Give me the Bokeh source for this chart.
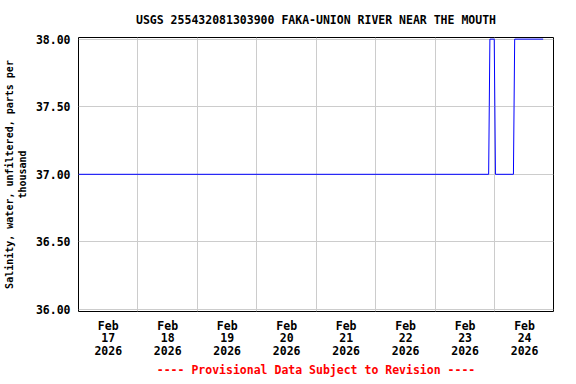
from datetime import datetime, timezone
from bokeh.plotting import figure
from bokeh.models import FixedTicker, NumeralTickFormatter, Title, Range1d
from bokeh.embed import file_html
from bokeh.resources import INLINE

# ---- data ----
times = ["2026-02-17 00:00", "2026-02-23 21:30", "2026-02-23 21:45", "2026-02-23 22:00",
         "2026-02-23 23:45", "2026-02-24 00:00", "2026-02-24 00:15", "2026-02-24 07:30",
         "2026-02-24 07:45", "2026-02-24 08:00", "2026-02-24 19:30"]
salinity = [37.0, 37.0, 37.5, 38.0, 38.0, 37.5, 37.0, 37.0, 37.5, 38.0, 38.0]

day_labels = ["Feb\n17\n2026", "Feb\n18\n2026", "Feb\n19\n2026", "Feb\n20\n2026",
              "Feb\n21\n2026", "Feb\n22\n2026", "Feb\n23\n2026", "Feb\n24\n2026"]
day_starts = ["2026-02-17", "2026-02-18", "2026-02-19", "2026-02-20",
              "2026-02-21", "2026-02-22", "2026-02-23", "2026-02-24", "2026-02-25"]
y_ticks = [36.0, 36.5, 37.0, 37.5, 38.0]

title_text = "USGS 255432081303900 FAKA-UNION RIVER NEAR THE MOUTH"
y_label = "Salinity, water, unfiltered, parts per\nthousand"
footer_text = "---- Provisional Data Subject to Revision ----"


def ms(s):
    fmt = "%Y-%m-%d %H:%M" if " " in s else "%Y-%m-%d"
    return datetime.strptime(s, fmt).replace(tzinfo=timezone.utc).timestamp() * 1000.0


x = [ms(t) for t in times]
midnights = [ms(d) for d in day_starts]
noons = [m + 12 * 3600 * 1000.0 for m in midnights[:-1]]

FONT = "DejaVu Sans Mono"
FS = "11.5px"

p = figure(frame_width=475, frame_height=274, x_axis_type="datetime",
           output_backend="svg", toolbar_location=None,
           min_border_left=71, min_border_right=14, min_border_top=0, min_border_bottom=0)
p.x_range = Range1d(midnights[0], midnights[-1] - 20 * 60 * 1000.0)
p.y_range = Range1d(35.985, 38.012)

p.line(x, salinity, line_color="#0000FF", line_width=1)

p.title.text = title_text
p.title.align = "center"
p.title.text_font = FONT
p.title.text_font_size = FS
p.title.text_font_style = "bold"
p.title.text_color = "black"
p.title.standoff = 21

# x axis
xa = p.xaxis[0]
xa.ticker = FixedTicker(ticks=noons)
xa.major_label_overrides = {n: lab for n, lab in zip(noons, day_labels)}
xa.major_label_text_font = FONT
xa.major_label_text_font_size = FS
xa.major_label_text_font_style = "bold"
xa.major_label_text_color = "black"
xa.major_label_text_line_height = 0.9
xa.major_label_standoff = 7
xa.major_tick_out = 0
xa.major_tick_in = 0
xa.minor_tick_out = 0
xa.minor_tick_in = 0
xa.major_tick_line_color = None
xa.minor_tick_line_color = None
xa.axis_line_color = None
p.xgrid.ticker = FixedTicker(ticks=midnights)
p.xgrid.grid_line_color = "#cccccc"

# y axis
ya = p.yaxis[0]
ya.ticker = FixedTicker(ticks=y_ticks)
ya.formatter = NumeralTickFormatter(format="0.00")
ya.major_label_text_font = FONT
ya.major_label_text_font_size = FS
ya.major_label_text_font_style = "bold"
ya.major_label_text_color = "black"
ya.major_label_standoff = 8
ya.major_tick_out = 0
ya.major_tick_in = 0
ya.minor_tick_out = 0
ya.minor_tick_in = 0
ya.major_tick_line_color = None
ya.minor_tick_line_color = None
ya.axis_line_color = None
ya.axis_label = y_label
ya.axis_label_text_font = FONT
ya.axis_label_text_font_size = "10px"
ya.axis_label_text_font_style = "bold"
ya.axis_label_text_color = "black"
ya.axis_label_standoff = 5
p.ygrid.ticker = FixedTicker(ticks=y_ticks)
p.ygrid.grid_line_color = "#cccccc"

p.outline_line_color = "black"
p.outline_line_width = 1
p.background_fill_color = "white"
p.border_fill_color = "white"

footer = Title(text=footer_text, align="center", text_font=FONT, text_font_size=FS,
               text_font_style="bold", text_color="#FF0000", standoff=1)
p.add_layout(footer, "below")

open("out.html", "w").write(file_html(p, INLINE))
